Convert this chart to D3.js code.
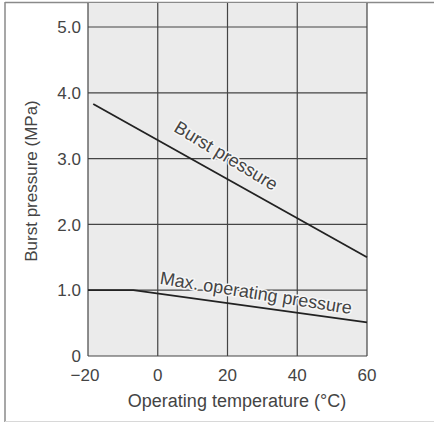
<!DOCTYPE html>
<html><head><meta charset="utf-8">
<script src="https://cdn.jsdelivr.net/npm/d3@7"></script>
<style>
html,body{margin:0;padding:0;background:#fff;}
text{font-family:"Liberation Sans",Arial,Helvetica,sans-serif;fill:#444;}
</style></head>
<body>
<svg id="c" width="434" height="423"></svg>
<script>
const xTicks = [-20, 0, 20, 40, 60];
const xTickLabels = ["\u221220", "0", "20", "40", "60"];
const yTicks = [0, 1, 2, 3, 4, 5];
const yTickLabels = ["0", "1.0", "2.0", "3.0", "4.0", "5.0"];
const burstTemp = [-18.5, 60];
const burstPressure = [3.83, 1.5];
const maxOpTemp = [-20, -7, 60];
const maxOpPressure = [1.0, 1.0, 0.51];
const xTitle = "Operating temperature (\u00b0C)";
const yTitle = "Burst pressure (MPa)";
const burstLabel = "Burst pressure";
const maxOpLabel = "Max. operating pressure";

const svg = d3.select("#c");
const x = d3.scaleLinear().domain([-20, 60]).range([88, 367]);
const y = d3.scaleLinear().domain([0, 5]).range([356, 27]);
const yTop = 3;

// outer frame
svg.append("line").attr("x1",5).attr("x2",434).attr("y1",2.5).attr("y2",2.5).attr("stroke","#8a8a8a").attr("stroke-width",1.5);
svg.append("line").attr("x1",5).attr("x2",5).attr("y1",2).attr("y2",422).attr("stroke","#8a8a8a").attr("stroke-width",1.5);
svg.append("line").attr("x1",5).attr("x2",434).attr("y1",421.5).attr("y2",421.5).attr("stroke","#d8d8d8").attr("stroke-width",1);

// plot background
svg.append("rect").attr("x", x(-20)).attr("y", yTop).attr("width", x(60)-x(-20)).attr("height", y(0)-yTop).attr("fill","#ebebeb");

// grid
const g = svg.append("g").attr("stroke","#444").attr("stroke-width",1.2);
xTicks.forEach(t => g.append("line").attr("x1",x(t)).attr("x2",x(t)).attr("y1",yTop).attr("y2",y(0)));
yTicks.forEach(t => g.append("line").attr("x1",x(-20)).attr("x2",x(60)).attr("y1",y(t)).attr("y2",y(t)));

// tick labels
svg.append("g").selectAll("text").data(yTicks).join("text")
  .attr("x", 81).attr("y", d => y(d)).attr("dy","0.36em").attr("text-anchor","end")
  .attr("font-size",17).text((d,i) => yTickLabels[i]);
svg.append("g").selectAll("text").data(xTicks).join("text")
  .attr("x", d => x(d) - (d < 0 ? 3 : 0)).attr("y", 381).attr("text-anchor","middle")
  .attr("font-size",17).text((d,i) => xTickLabels[i]);

// titles
svg.append("text").attr("x", 237).attr("y", 407).attr("text-anchor","middle").attr("font-size",18).text(xTitle);
svg.append("text").attr("transform","translate(37,181) rotate(-90)").attr("text-anchor","middle").attr("font-size",17).text(yTitle);

// lines
const line = d3.line().x(d => x(d[0])).y(d => y(d[1]));
svg.append("path").datum(burstTemp.map((t,i)=>[t,burstPressure[i]])).attr("d", line)
  .attr("fill","none").attr("stroke","#222").attr("stroke-width",1.8);
svg.append("path").datum(maxOpTemp.map((t,i)=>[t,maxOpPressure[i]])).attr("d", line)
  .attr("fill","none").attr("stroke","#222").attr("stroke-width",1.8);

// line labels
function addLabel(txt, cx, cy, ang) {
  svg.append("text").attr("transform",`translate(${cx},${cy}) rotate(${ang})`)
    .attr("text-anchor","middle").attr("font-size",18)
    .attr("stroke","#f6f6f6").attr("stroke-width",3).attr("stroke-linejoin","round")
    .attr("paint-order","stroke").text(txt);
}
addLabel(burstLabel, 223, 161, 31);
addLabel(maxOpLabel, 255, 299, 9);
</script>
</body></html>
